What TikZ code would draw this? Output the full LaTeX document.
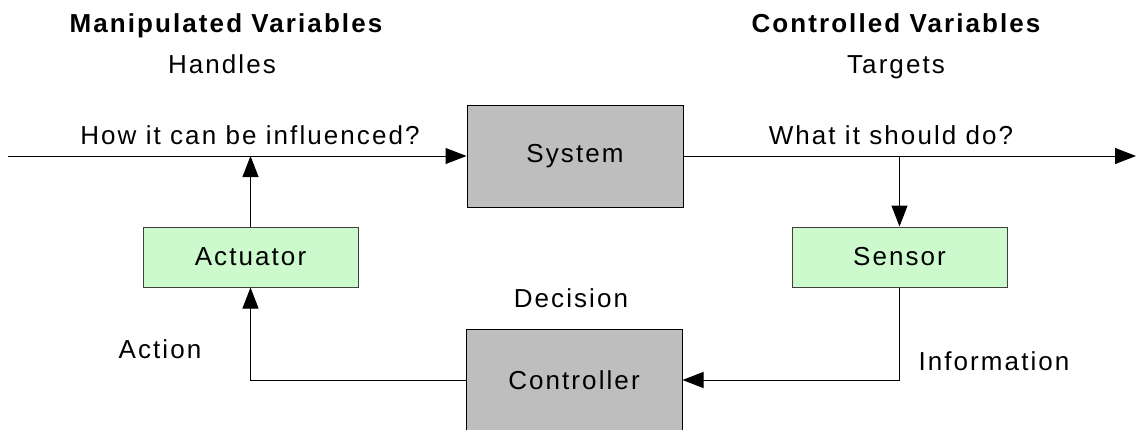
\documentclass[tikz,border=0pt]{standalone}
\usepackage{fontspec}
\setmainfont{Liberation Sans}[LetterSpace=8]
\usetikzlibrary{arrows.meta}
\definecolor{boxgray}{HTML}{BEBEBE}
\definecolor{boxgreen}{HTML}{CCFACC}
\definecolor{edgegray}{HTML}{404040}
\begin{document}
\begin{tikzpicture}[x=1pt,y=-1pt,
  font=\fontsize{26}{30}\selectfont,
  graybox/.style={draw=black, line width=1pt, fill=boxgray, inner sep=0pt,
                  minimum width=216pt, minimum height=102pt},
  greenbox/.style={draw=edgegray, line width=1pt, fill=boxgreen, inner sep=0pt,
                   minimum width=215pt, minimum height=60pt},
  lbl/.style={anchor=base, inner sep=0pt},
  flow/.style={draw=black, line width=1pt, -{Triangle[length=21pt,width=16pt]}}]
\useasboundingbox (0,0) rectangle (1136,429);

% blocks
\node[graybox]  (sys) at (575,156)   {System};
\node[greenbox] (sen) at (899.5,257) {Sensor};
\node[greenbox] (act) at (250.5,257) {Actuator};
\node[graybox]  (ctl) at (574,380)   {Controller};

% free ends of the main signal line
\coordinate (in)   at (8,156);
\coordinate (out)  at (1136,156);
\coordinate (tap)  at (sen.north |- sys.east);
\coordinate (push) at (act.north |- sys.west);

% connectors
\draw[flow] (in) -- (sys.west);
\draw[flow] (sys.east) -- (out);
\draw[flow] (tap) -- (sen.north);
\draw[flow] (sen.south) |- (ctl.east);
\draw[flow] (ctl.west) -| (act.south);
\draw[flow] (act.north) -- (push);

% labels
\node[lbl] (mv)   at (226,32)  {\bfseries Manipulated Variables};
\node[lbl] (hdl)  at (222,73)  {Handles};
\node[lbl] (how)  at (250,144) {How it can be influenced?};
\node[lbl] (cv)   at (896,32)  {\bfseries Controlled Variables};
\node[lbl] (tgt)  at (896,73)  {Targets};
\node[lbl] (what) at (891,144) {What it should do?};
\node[lbl] (dec)  at (571,307) {Decision};
\node[lbl] (actn) at (160,358) {Action};
\node[lbl] (info) at (994,370) {Information};
\end{tikzpicture}
\end{document}
